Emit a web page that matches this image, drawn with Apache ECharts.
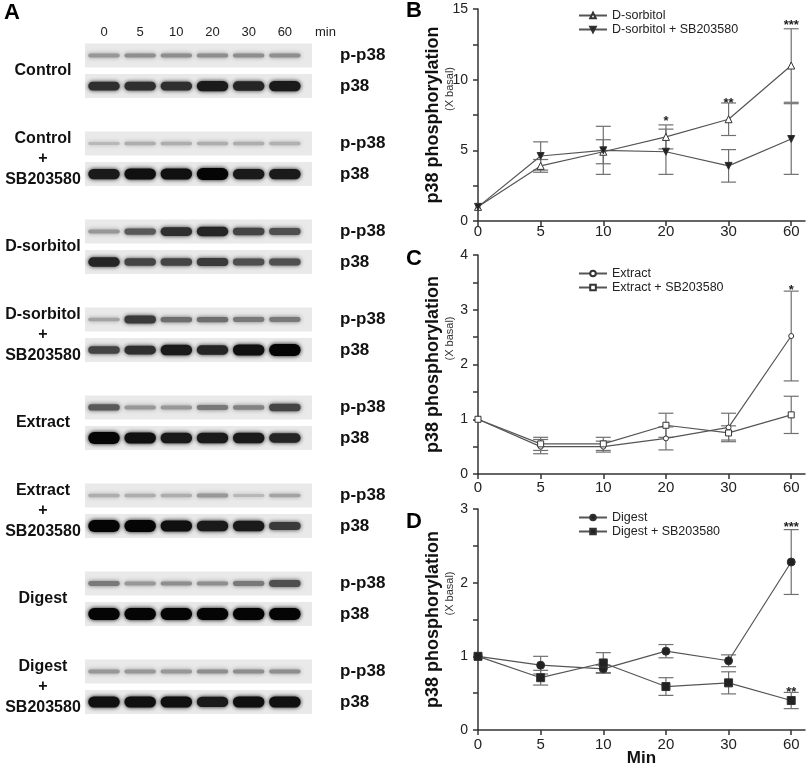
<!DOCTYPE html>
<html>
<head>
<meta charset="utf-8">
<script src="https://cdn.jsdelivr.net/npm/echarts@6/dist/echarts.min.js"></script>
<style>
html, body {margin: 0; padding: 0; background: #fff;}
#main {width: 809px; height: 770px;}
</style>
</head>
<body>
<div id="main"></div>
<script>
// time points (min)
var minLabels = ['0', '5', '10', '20', '30', '60'];

// B - D-sorbitol
var sorbitol = [1, 3.9, 4.9, 5.95, 7.2, 11.0];
var sorbitolErr = [0, 0.45, 0.85, 0.85, 1.15, 2.6];
var sorbitolSb = [1, 4.6, 5.0, 4.9, 3.9, 5.8];
var sorbitolSbErr = [0, 1.0, 1.7, 1.6, 1.15, 2.5];
var sigB = [[3, 7.3, '*'], [4, 8.6, '**'], [5, 14.1, '***']];

// C - Extract
var extract = [1, 0.5, 0.5, 0.65, 0.85, 2.52];
var extractErr = [0, 0.13, 0.1, 0.21, 0.26, 0.82];
var extractSb = [1, 0.55, 0.55, 0.89, 0.75, 1.08];
var extractSbErr = [0, 0.12, 0.12, 0.22, 0.13, 0.34];
var sigC = [[5, 3.42, '*']];

// D - Digest
var digest = [1, 0.88, 0.83, 1.07, 0.94, 2.28];
var digestErr = [0, 0.12, 0.05, 0.09, 0.08, 0.44];
var digestSb = [1, 0.71, 0.91, 0.59, 0.64, 0.40];
var digestSbErr = [0, 0.1, 0.14, 0.12, 0.15, 0.11];
var sigD = [[5, 2.8, '***'], [5, 0.57, '**']];

// A - western blots, band intensity per lane (0..1)
var blotGroups = ['Control', 'Control\n+\nSB203580', 'D-sorbitol', 'D-sorbitol\n+\nSB203580',
    'Extract', 'Extract\n+\nSB203580', 'Digest', 'Digest\n+\nSB203580'];
var bandPhospho = [
    [0.3, 0.35, 0.35, 0.35, 0.35, 0.35],
    [0.15, 0.2, 0.2, 0.2, 0.2, 0.18],
    [0.3, 0.6, 0.8, 0.85, 0.7, 0.65],
    [0.25, 0.75, 0.5, 0.5, 0.45, 0.45],
    [0.6, 0.3, 0.3, 0.45, 0.4, 0.7],
    [0.2, 0.2, 0.2, 0.3, 0.15, 0.25],
    [0.45, 0.3, 0.35, 0.35, 0.45, 0.65],
    [0.3, 0.3, 0.3, 0.35, 0.35, 0.35]
];
var bandTotal = [
    [0.8, 0.8, 0.8, 0.9, 0.85, 0.9],
    [0.9, 0.95, 0.95, 1, 0.9, 0.9],
    [0.85, 0.7, 0.7, 0.75, 0.65, 0.65],
    [0.7, 0.8, 0.9, 0.85, 0.95, 1],
    [1, 0.95, 0.9, 0.9, 0.9, 0.85],
    [1, 1, 0.95, 0.9, 0.9, 0.75],
    [1, 1, 1, 1, 1, 1],
    [0.95, 0.95, 0.95, 0.9, 0.95, 0.95]
];

var chart = echarts.init(document.getElementById('main'));

// blot layout: each group takes 3 row units, p38 strip sits 1.04 under p-p38
var laneMin = -0.525, laneMax = 5.75, stripHalf = 0.41, totalOffset = 1.04;
var rowVals = [], groupVals = [], bandData = [];
for (var g = 0; g < blotGroups.length; g++) {
    rowVals.push(g * 3, g * 3 + totalOffset);
    groupVals.push(g * 3 + 0.52);
    for (var l = 0; l < 6; l++) {
        bandData.push([l, g * 3, bandPhospho[g][l]]);
        bandData.push([l, g * 3 + totalOffset, bandTotal[g][l]]);
    }
}

function pairs(arr) {
    return arr.map(function (v, i) { return [i, v]; });
}
function errData(vals, errs) {
    return vals.map(function (v, i) { return [i, v, errs[i]]; });
}

function renderErr(params, api) {
    var x = api.value(0), y = api.value(1), e = api.value(2);
    if (!e) return;
    var hi = api.coord([x, y + e]);
    var lo = api.coord([x, y - e]);
    var cw = 7.5;
    var st = {stroke: '#707070', lineWidth: 1.2};
    return {
        type: 'group',
        children: [
            {type: 'line', shape: {x1: hi[0], y1: hi[1], x2: lo[0], y2: lo[1]}, style: st},
            {type: 'line', shape: {x1: hi[0] - cw, y1: hi[1], x2: hi[0] + cw, y2: hi[1]}, style: st},
            {type: 'line', shape: {x1: lo[0] - cw, y1: lo[1], x2: lo[0] + cw, y2: lo[1]}, style: st}
        ]
    };
}

function errSeries(vals, errs, idx) {
    return {
        type: 'custom', xAxisIndex: idx, yAxisIndex: idx, z: 1,
        renderItem: renderErr, data: errData(vals, errs),
        encode: {x: 0, y: 1}, silent: true
    };
}

function sigSeries(sig, idx) {
    return {
        type: 'custom', xAxisIndex: idx, yAxisIndex: idx, z: 3,
        data: sig.map(function (s) { return [s[0], s[1]]; }),
        encode: {x: 0, y: 1}, silent: true,
        renderItem: function (params, api) {
            var p = api.coord([api.value(0), api.value(1)]);
            return {
                type: 'text', x: p[0], y: p[1] + 4,
                style: {text: sig[params.dataIndex][2], fill: '#222', font: 'bold 13px Arial',
                    align: 'center', verticalAlign: 'middle'}
            };
        }
    };
}

function lineSeries(name, vals, idx, symbol, size, filled, rotate) {
    return {
        name: name, type: 'line', xAxisIndex: idx, yAxisIndex: idx, z: 2,
        data: pairs(vals), symbol: symbol, symbolSize: size, symbolRotate: rotate || 0,
        showAllSymbol: true,
        lineStyle: {color: '#555', width: 1.2},
        itemStyle: {color: filled ? '#222' : '#fff', borderColor: '#333', borderWidth: 1, opacity: 1},
        emphasis: {disabled: true}
    };
}

var gridB = {left: 478, top: 9, width: 327, height: 212};
var gridC = {left: 478, top: 255, width: 327, height: 219};
var gridD = {left: 478, top: 509, width: 327, height: 221};

function chartX(idx, margin, withName) {
    var ax = {
        type: 'value', gridIndex: idx, min: 0, max: 5.22,
        axisLine: {lineStyle: {color: '#333', width: 1.5}},
        axisTick: {length: 5, customValues: [0, 1, 2, 3, 4, 5], lineStyle: {color: '#333', width: 1.5}},
        axisLabel: {customValues: [0, 1, 2, 3, 4, 5], margin: margin, fontSize: 15, color: '#222',
            fontFamily: 'Arial', formatter: function (v) { return minLabels[Math.round(v)]; }},
        splitLine: {show: false}
    };
    if (withName) {
        ax.name = 'Min';
        ax.nameLocation = 'middle';
        ax.nameGap = 20;
        ax.nameMoveOverlap = false;
        ax.nameTextStyle = {fontSize: 17, fontWeight: 'bold', color: '#111', fontFamily: 'Arial'};
    }
    return ax;
}

function chartY(idx, max, interval, labels) {
    return {
        type: 'value', gridIndex: idx, min: 0, max: max, interval: interval,
        axisLine: {show: true, lineStyle: {color: '#333', width: 1.5}},
        axisTick: {show: true, length: 5, lineStyle: {color: '#333', width: 1.5}},
        axisLabel: {customValues: labels, margin: 10, fontSize: 14, color: '#222', fontFamily: 'Arial'},
        splitLine: {show: false},
        name: '{a|p38 phosphorylation}\n{b|(X basal)}',
        nameLocation: 'middle', nameRotate: 90, nameGap: 22, nameMoveOverlap: false,
        nameTextStyle: {
            rich: {
                a: {fontSize: 18, fontWeight: 'bold', color: '#111', fontFamily: 'Arial', lineHeight: 20},
                b: {fontSize: 11, color: '#333', fontFamily: 'Arial', lineHeight: 13, padding: [0, 0, 0, 52]}
            }
        }
    };
}

function legendAt(top, names) {
    return {
        left: 578, top: top, orient: 'vertical', itemWidth: 28, itemHeight: 7, itemGap: 1, padding: 0,
        data: names, selectedMode: false,
        textStyle: {fontSize: 12.5, color: '#222', fontFamily: 'Arial'}
    };
}

var letterStyle = {fontSize: 22, fontWeight: 'bold', color: '#000', fontFamily: 'Arial'};

var option = {
    animation: false,
    backgroundColor: '#fff',
    title: [
        {text: 'A', left: 4, top: 2, textStyle: letterStyle, padding: 0},
        {text: 'B', left: 406, top: 0, textStyle: letterStyle, padding: 0},
        {text: 'C', left: 406, top: 248, textStyle: letterStyle, padding: 0},
        {text: 'D', left: 406, top: 511, textStyle: letterStyle, padding: 0}
    ],
    legend: [
        legendAt(9, ['D-sorbitol', 'D-sorbitol + SB203580']),
        legendAt(267, ['Extract', 'Extract + SB203580']),
        legendAt(511, ['Digest', 'Digest + SB203580'])
    ],
    graphic: [
        {type: 'text', left: 315, top: 26, style: {text: 'min', fontSize: 13, fill: '#222', fontFamily: 'Arial'}}
    ],
    grid: [
        {left: 85, top: 43.5, width: 227, height: 670.5, outerBoundsMode: 'none'},
        Object.assign({outerBoundsMode: 'none'}, gridB),
        Object.assign({outerBoundsMode: 'none'}, gridC),
        Object.assign({outerBoundsMode: 'none'}, gridD)
    ],
    xAxis: [
        {
            type: 'value', gridIndex: 0, min: laneMin, max: laneMax, position: 'top',
            axisLine: {show: false}, axisTick: {show: false}, splitLine: {show: false},
            axisLabel: {customValues: [0, 1, 2, 3, 4, 5], margin: 5, fontSize: 13, color: '#222',
                fontFamily: 'Arial', formatter: function (v) { return minLabels[Math.round(v)]; }}
        },
        chartX(1, 3, false),
        chartX(2, 6, false),
        chartX(3, 7, true)
    ],
    yAxis: [
        {
            type: 'value', gridIndex: 0, min: -stripHalf, max: 21 + totalOffset + stripHalf, inverse: true,
            position: 'right', axisLine: {show: false}, axisTick: {show: false}, splitLine: {show: false},
            axisLabel: {customValues: rowVals, margin: 28, fontSize: 17, fontWeight: 'bold', color: '#111',
                fontFamily: 'Arial',
                formatter: function (v) { return Math.abs(v - Math.round(v / 3) * 3) < 0.01 ? 'p-p38' : 'p38'; }}
        },
        chartY(1, 15, 2.5, [0, 5, 10, 15]),
        chartY(2, 4, 0.5, [0, 1, 2, 3, 4]),
        chartY(3, 3, 0.5, [0, 1, 2, 3]),
        {
            type: 'value', gridIndex: 0, min: -stripHalf, max: 21 + totalOffset + stripHalf, inverse: true,
            position: 'left', axisLine: {show: false}, axisTick: {show: false}, splitLine: {show: false},
            axisLabel: {customValues: groupVals, margin: 42, align: 'center', fontSize: 16, fontWeight: 'bold',
                color: '#111', fontFamily: 'Arial', lineHeight: 20.5,
                formatter: function (v) { return blotGroups[Math.round((v - 0.52) / 3)]; }}
        }
    ],
    series: [
        // blot strip backgrounds
        {
            type: 'custom', xAxisIndex: 0, yAxisIndex: 0, z: 1, silent: true,
            data: rowVals.map(function (r) { return [0, r]; }), encode: {x: 0, y: 1},
            renderItem: function (params, api) {
                var r = api.value(1);
                var a = api.coord([laneMin, r - stripHalf]);
                var b = api.coord([laneMax, r + stripHalf]);
                return {type: 'rect', shape: {x: a[0], y: Math.min(a[1], b[1]), width: b[0] - a[0], height: Math.abs(b[1] - a[1])},
                    style: {fill: '#e9e9e9'}};
            }
        },
        // blot bands
        {
            type: 'custom', xAxisIndex: 0, yAxisIndex: 0, z: 2, silent: true,
            data: bandData, encode: {x: 0, y: 1},
            renderItem: function (params, api) {
                var I = api.value(2);
                var c = api.coord([api.value(0), api.value(1)]);
                var w = api.size([0.87, 0])[0];
                var h = 3 + 9 * I * I;
                var gv = Math.round(215 - 210 * I);
                var col = 'rgb(' + gv + ',' + gv + ',' + gv + ')';
                return {type: 'rect', shape: {x: c[0] - w / 2, y: c[1] - h / 2, width: w, height: h, r: h / 2},
                    style: {fill: col, shadowBlur: 4, shadowColor: col}};
            }
        },
        errSeries(sorbitol, sorbitolErr, 1),
        errSeries(sorbitolSb, sorbitolSbErr, 1),
        lineSeries('D-sorbitol', sorbitol, 1, 'triangle', 7, false),
        lineSeries('D-sorbitol + SB203580', sorbitolSb, 1, 'triangle', 7, true, 180),
        sigSeries(sigB, 1),
        errSeries(extract, extractErr, 2),
        errSeries(extractSb, extractSbErr, 2),
        lineSeries('Extract', extract, 2, 'circle', 5, false),
        lineSeries('Extract + SB203580', extractSb, 2, 'rect', 6, false),
        sigSeries(sigC, 2),
        errSeries(digest, digestErr, 3),
        errSeries(digestSb, digestSbErr, 3),
        lineSeries('Digest', digest, 3, 'circle', 8, true),
        lineSeries('Digest + SB203580', digestSb, 3, 'rect', 8, true),
        sigSeries(sigD, 3)
    ]
};

chart.setOption(option);
</script>
</body>
</html>
